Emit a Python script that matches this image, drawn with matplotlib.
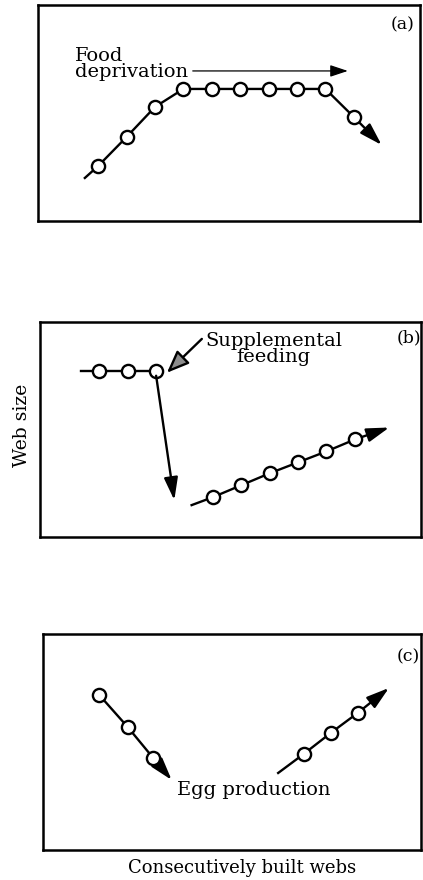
import matplotlib
matplotlib.use("Agg")
import matplotlib.pyplot as plt

plt.rcParams['font.family'] = ['DejaVu Serif']

# ===============================
# Data (web number vs relative web size)
# ===============================

# (a) food deprivation
a_webs = [1, 2, 3, 4, 5, 6, 7, 8, 9, 10]
a_size = [5.5, 8.4, 11.4, 13.2, 13.2, 13.2, 13.2, 13.2, 13.2, 10.4]
a_lead = [0.53, 4.3]
a_tip = [10.98, 7.6]

# (b) supplemental feeding
b1_webs = [1, 2, 3]
b1_size = [16.7, 16.7, 16.7]
b1_lead = [0.34, 16.7]
b_drop_tip = [3.64, 3.7]
b2_webs = [5, 6, 7, 8, 9, 10]
b2_size = [4.0, 5.2, 6.4, 7.5, 8.6, 9.8]
b2_lead = [4.25, 3.2]
b2_tip = [11.21, 11.0]

# (c) egg production
c1_webs = [1, 2, 2.9]
c1_size = [15.5, 12.3, 9.2]
c1_tip = [3.55, 7.0]
c2_webs = [8.2, 9.15, 10.1]
c2_size = [9.6, 11.7, 13.7]
c2_lead = [7.3, 7.7]
c2_tip = [11.2, 16.2]

FS = 14
LW = 1.7
mk = dict(marker='o', ms=9.5, mfc='white', mec='black', mew=1.7)
big_head = '-|>,head_length=0.62,head_width=0.19'
head = dict(arrowstyle=big_head, mutation_scale=22, lw=LW, color='black',
            shrinkA=0, shrinkB=0)


def series(ax, webs, size, lead=None, tip=None):
    xs, ys = list(webs), list(size)
    if lead is not None:
        xs, ys = [lead[0]] + xs, [lead[1]] + ys
    ax.plot(xs, ys, color='black', lw=LW, zorder=2)
    ax.plot(webs, size, ls='none', zorder=3, **mk)
    if tip is not None:
        ax.annotate('', xy=tip, xytext=(webs[-1], size[-1]),
                    arrowprops=head, zorder=2)


def frame(ax, xlim):
    ax.set_xlim(*xlim)
    ax.set_ylim(0, 21.6)
    ax.set_xticks([])
    ax.set_yticks([])
    for s in ax.spines.values():
        s.set_linewidth(1.8)


fig = plt.figure(figsize=(4.23, 8.80), dpi=100)

ax_a = fig.add_axes([0.0898, 0.7489, 0.903, 0.2455])
ax_b = fig.add_axes([0.0946, 0.3898, 0.9007, 0.2443])
ax_c = fig.add_axes([0.1017, 0.0341, 0.8936, 0.2455])

# ---- (a)
frame(ax_a, (-1.12, 12.33))
series(ax_a, a_webs, a_size, a_lead, a_tip)
ax_a.annotate('', xy=(9.79, 15.0), xytext=(4.33, 15.0),
              arrowprops=dict(arrowstyle='-|>,head_length=0.6,head_width=0.2',
                              mutation_scale=18, lw=0.9,
                              color='black', shrinkA=0, shrinkB=0))
ax_a.text(0.18, 15.7, 'Food\ndeprivation', fontsize=FS, ha='left',
          va='center', linespacing=0.9)
ax_a.text(11.73, 19.6, '(a)', fontsize=FS - 1.5, ha='center', va='center')

# ---- (b)
frame(ax_b, (-1.09, 12.33))
series(ax_b, b1_webs, b1_size, b1_lead)
ax_b.annotate('', xy=b_drop_tip, xytext=(b1_webs[-1], b1_size[-1] - 0.5),
              arrowprops=head)
series(ax_b, b2_webs, b2_size, b2_lead, b2_tip)
ax_b.annotate('', xy=(3.38, 16.5), xytext=(4.61, 19.9),
              arrowprops=dict(arrowstyle='-|>,head_length=0.62,head_width=0.25',
                              mutation_scale=22, lw=LW,
                              ec='black', fc='0.55', shrinkA=0, shrinkB=0))
ax_b.text(7.14, 18.9, 'Supplemental\nfeeding', fontsize=FS, ha='center',
          va='center', linespacing=0.9)
ax_b.text(11.9, 20.0, '(b)', fontsize=FS - 1.5, ha='center', va='center')

# ---- (c)
frame(ax_c, (-0.98, 12.33))
series(ax_c, c1_webs, c1_size, None, c1_tip)
series(ax_c, c2_webs, c2_size, c2_lead, c2_tip)
ax_c.text(3.73, 6.0, 'Egg production', fontsize=FS, ha='left', va='center')
ax_c.text(11.87, 19.3, '(c)', fontsize=FS - 1.5, ha='center', va='center')

fig.text(22 / 423, 1 - 425 / 880, 'Web size', rotation=90, fontsize=13.5,
         ha='center', va='center')
fig.text(242 / 423, 1 - 868 / 880, 'Consecutively built webs', fontsize=13,
         ha='center', va='center')

fig.savefig('out.png', dpi=100)
